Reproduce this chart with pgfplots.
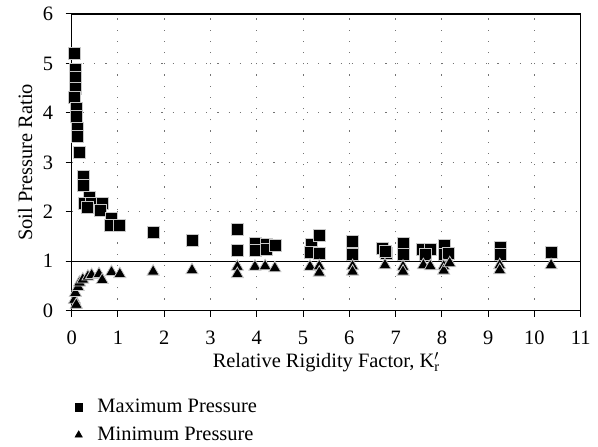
\documentclass[border=0pt]{standalone}
\usepackage{fontspec}
\setmainfont{Liberation Serif}
\usepackage{pgfplots}
\pgfplotsset{compat=1.18}
\newcommand{\fs}{\fontsize{20.5}{24}\selectfont}

\pgfplotstableread{
x y
0.05 5.21
0.07 4.88
0.07 4.71
0.09 4.49
0.06 4.32
0.10 4.09
0.11 3.93
0.12 3.68
0.12 3.52
0.17 3.20
0.25 2.71
0.25 2.54
0.38 2.30
0.27 2.18
0.43 2.16
0.35 2.08
0.66 2.17
0.61 2.03
0.86 1.87
0.84 1.72
1.04 1.73
1.76 1.58
2.60 1.42
3.58 1.65
3.58 1.21
3.98 1.37
3.98 1.21
4.20 1.35
4.20 1.24
4.41 1.33
5.17 1.34
5.15 1.18
5.35 1.53
5.36 1.15
6.07 1.41
6.07 1.14
6.72 1.26
6.80 1.15
6.77 1.19
7.16 1.36
7.16 1.13
7.57 1.23
7.75 1.23
7.64 1.13
8.05 1.33
8.05 1.13
8.15 1.15
9.26 1.29
9.26 1.13
10.36 1.18
}\maxdata

\pgfplotstableread{
x y
0.06 0.22
0.10 0.12
0.08 0.36
0.14 0.48
0.17 0.57
0.24 0.63
0.35 0.69
0.43 0.72
0.59 0.74
0.66 0.62
0.86 0.78
1.04 0.74
1.76 0.79
2.60 0.82
3.58 0.89
3.58 0.74
3.96 0.89
4.18 0.90
4.39 0.86
5.15 0.89
5.35 0.90
5.35 0.77
6.07 0.90
6.07 0.79
6.77 0.92
7.16 0.89
7.16 0.79
7.60 0.92
7.75 0.90
8.04 0.90
8.04 0.81
8.17 0.96
9.25 0.92
9.25 0.82
10.36 0.92
}\mindata

\begin{document}
\begin{tikzpicture}
\begin{axis}[
 scale only axis, width=509bp, height=296.7bp,
 xmin=0, xmax=11, ymin=0, ymax=6,
 xtick={0,...,11}, ytick={0,...,6},
 axis line style={black, line width=1.4bp},
 tick style={black, line width=1bp},
 tick align=outside, major tick length=6bp,
 xtick pos=bottom, ytick pos=left,
 /pgf/number format/assume math mode=true,
 tick label style={font=\fs},
 xticklabel style={yshift=-11bp},
 yticklabel style={xshift=-9bp},
 label style={font=\fs},
 grid=major,
 major grid style={black!55, line width=1bp, dash pattern=on 1.2bp off 10bp},
 extra y ticks={1}, extra y tick labels={},
 extra y tick style={grid=major, major grid style={solid, black, line width=1bp}},
 xlabel={Relative Rigidity Factor, K\rlap{$^{\prime}$}\textsubscript{r}},
 ylabel={Soil Pressure Ratio},
 xlabel style={at={(axis description cs:0.5,-0.193)}, anchor=base},
 ylabel style={at={(axis description cs:-0.0917,0.5)}, anchor=center},
 legend style={draw=none, fill=none, font=\fs, at={(axis description cs:0,-0.285)},
   anchor=north west, row sep=9bp, column sep=13bp},
 legend cell align=left,
]
\addplot[only marks, mark=square*, mark size=6bp,
  mark options={fill=black, draw=black!22, line width=0.8bp}, forget plot]
  table[x=x,y=y] {\maxdata};
\addplot[only marks, mark=triangle*, mark size=7bp,
  mark options={fill=black, draw=black!22, line width=0.8bp}, forget plot]
  table[x=x,y=y] {\mindata};
\addlegendimage{only marks, mark=square*, mark size=3.8bp, mark options={fill=black, draw=black}}
\addlegendentry{Maximum Pressure}
\addlegendimage{only marks, mark=triangle*, mark size=4.3bp, mark options={fill=black, draw=black}}
\addlegendentry{Minimum Pressure}
\end{axis}
\path ([shift={(-71.7bp,-134.3bp)}]current axis.south west) rectangle
      ([shift={(526.3bp,310.7bp)}]current axis.south west);
\end{tikzpicture}
\end{document}
